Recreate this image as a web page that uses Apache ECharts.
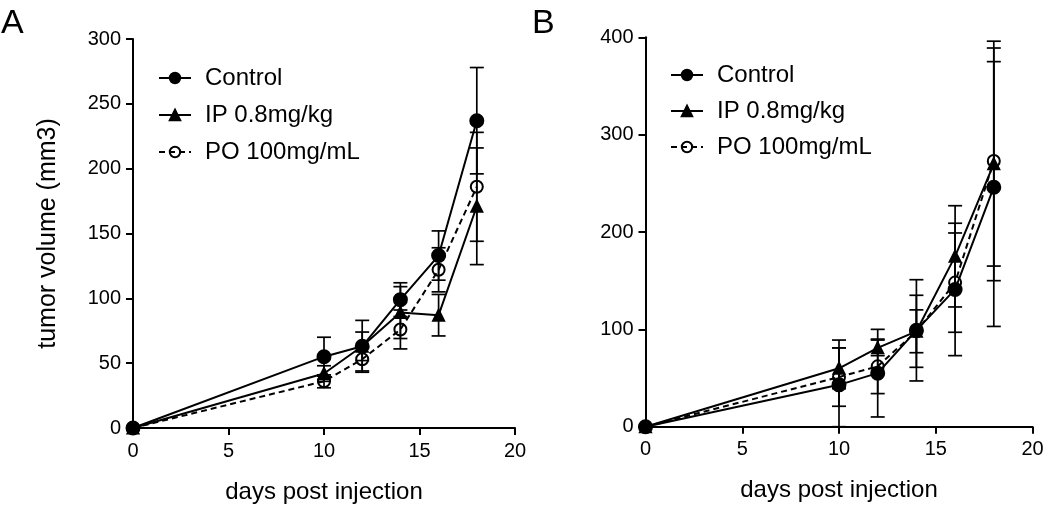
<!DOCTYPE html>
<html>
<head>
<meta charset="utf-8">
<script src="https://cdn.jsdelivr.net/npm/echarts@6/dist/echarts.min.js"></script>
<style>
html,body{margin:0;padding:0;background:#fff;}
#c{width:1050px;height:509px;}
</style>
</head>
<body>
<div id="c"></div>
<script>
// ---- data ----
const days = [0, 10, 12, 14, 16, 18];
const seriesNames = ['Control', 'IP 0.8mg/kg', 'PO 100mg/mL'];

// Panel A (mean, SEM)
const aControl = [0, 55, 63, 99, 133, 237];
const aControlErr = [0, 15, 20, 13, 19, 41];
const aIP = [0, 42, 63, 89, 87, 171];
const aIPErr = [0, 6, 11, 20, 16, 45];
const aPO = [0, 36, 53, 76, 122, 186];
const aPOErr = [0, 5, 9, 15, 17, 42];

// Panel B (mean, SEM)
const bControl = [0, 43, 55, 99, 141, 246];
const bControlErr = [0, 46, 45, 52, 68, 143];
const bIP = [0, 60, 81, 98, 175, 270];
const bIPErr = [0, 21, 8, 37, 52, 105];
const bPO = [0, 51, 62, 98, 148, 273];
const bPOErr = [0, 30, 28, 22, 51, 123];

const xTicks = [0, 5, 10, 15, 20];
const aYTicks = [0, 50, 100, 150, 200, 250, 300];
const bYTicks = [0, 100, 200, 300, 400];

// ---- chart ----
const FONT = "'Liberation Sans', Arial, Helvetica, sans-serif";
const INK = '#000';

function pts(vals) { return days.map((d, i) => [d, vals[i]]); }
function errs(vals, e) { return days.map((d, i) => [d, Math.max(0, vals[i] - e[i]), vals[i] + e[i]]); }

function errorSeries(name, idx, data) {
  return {
    type: 'custom', name: name, xAxisIndex: idx, yAxisIndex: idx, z: 1,
    silent: true,
    encode: { x: 0, y: [1, 2] },
    data: data,
    renderItem: function (params, api) {
      const x = api.value(0);
      const lo = api.coord([x, api.value(1)]);
      const hi = api.coord([x, api.value(2)]);
      const h = 7;
      const st = { stroke: INK, lineWidth: 1.7 };
      return {
        type: 'group',
        children: [
          { type: 'line', shape: { x1: hi[0], y1: hi[1], x2: lo[0], y2: lo[1] }, style: st },
          { type: 'line', shape: { x1: hi[0] - h, y1: hi[1], x2: hi[0] + h, y2: hi[1] }, style: st },
          { type: 'line', shape: { x1: lo[0] - h, y1: lo[1], x2: lo[0] + h, y2: lo[1] }, style: st }
        ]
      };
    }
  };
}

const symbolDefs = [
  { symbol: 'circle', size: 13, dash: 'solid', fill: INK, z: 5 },
  { symbol: 'triangle', size: 11, dash: 'solid', fill: INK, z: 4 },
  { symbol: 'circle', size: 12, dash: [6, 4], fill: 'rgba(0,0,0,0)', z: 3 }
];

function lineSeries(name, idx, k, vals) {
  const s = symbolDefs[k];
  return {
    type: 'line', name: name, xAxisIndex: idx, yAxisIndex: idx, z: s.z,
    data: pts(vals),
    symbol: s.symbol, symbolSize: s.size,
    showAllSymbol: true,
    lineStyle: { color: INK, width: 2, type: s.dash },
    itemStyle: { color: s.fill, borderColor: INK, borderWidth: 2 },
    emphasis: { disabled: true },
    animation: false
  };
}

function xAxis(idx) {
  return {
    gridIndex: idx, type: 'value', min: 0, max: 20, interval: 5,
    name: 'days post injection', nameLocation: 'middle', nameGap: 52,
    nameTextStyle: { fontFamily: FONT, fontSize: 24, color: INK },
    axisLine: { show: true, lineStyle: { color: INK, width: 2 } },
    axisTick: { show: true, length: 7, lineStyle: { color: INK, width: 2 } },
    axisLabel: { fontFamily: FONT, fontSize: 20, color: INK, margin: 13 },
    splitLine: { show: false }
  };
}
function yAxis(idx, max, interval, name) {
  return {
    gridIndex: idx, type: 'value', min: 0, max: max, interval: interval,
    name: name, nameLocation: 'middle', nameGap: 72,
    nameTextStyle: { fontFamily: FONT, fontSize: 25, color: INK },
    axisLine: { show: true, onZero: false, lineStyle: { color: INK, width: 2 } },
    axisTick: { show: true, length: 7, lineStyle: { color: INK, width: 2 } },
    axisLabel: { fontFamily: FONT, fontSize: 20, color: INK, margin: 12 },
    splitLine: { show: false }
  };
}

function legend(left, top, gap) {
  return {
    left: left, top: top, orient: 'vertical', itemGap: gap, padding: 0,
    itemWidth: 32, itemHeight: 13,
    data: seriesNames,
    textStyle: { fontFamily: FONT, fontSize: 24, color: INK, padding: [0, 0, 0, 9] },
    selectedMode: false
  };
}

const chart = echarts.init(document.getElementById('c'), null, { renderer: 'canvas' });
chart.setOption({
  backgroundColor: '#fff',
  animation: false,
  textStyle: { fontFamily: FONT },
  grid: [
    { left: 133, top: 39, width: 382, height: 389 },
    { left: 645.5, top: 37.3, width: 387, height: 389.4 }
  ],
  xAxis: [xAxis(0), xAxis(1)],
  yAxis: [yAxis(0, aYTicks[aYTicks.length - 1], aYTicks[1] - aYTicks[0], 'tumor volume (mm3)'),
          yAxis(1, bYTicks[bYTicks.length - 1], bYTicks[1] - bYTicks[0], '')],
  legend: [legend(158, 66, 13), legend(670, 63, 12)],
  graphic: [
    { type: 'text', left: 1, top: 7, style: { text: 'A', font: '34px ' + FONT, fill: INK } },
    { type: 'text', left: 532, top: 7, style: { text: 'B', font: '34px ' + FONT, fill: INK } }
  ],
  series: [
    lineSeries(seriesNames[0], 0, 0, aControl),
    lineSeries(seriesNames[1], 0, 1, aIP),
    lineSeries(seriesNames[2], 0, 2, aPO),
    lineSeries(seriesNames[0], 1, 0, bControl),
    lineSeries(seriesNames[1], 1, 1, bIP),
    lineSeries(seriesNames[2], 1, 2, bPO),
    errorSeries(seriesNames[0], 0, errs(aControl, aControlErr)),
    errorSeries(seriesNames[1], 0, errs(aIP, aIPErr)),
    errorSeries(seriesNames[2], 0, errs(aPO, aPOErr)),
    errorSeries(seriesNames[0], 1, errs(bControl, bControlErr)),
    errorSeries(seriesNames[1], 1, errs(bIP, bIPErr)),
    errorSeries(seriesNames[2], 1, errs(bPO, bPOErr))
  ]
});
</script>
</body>
</html>
